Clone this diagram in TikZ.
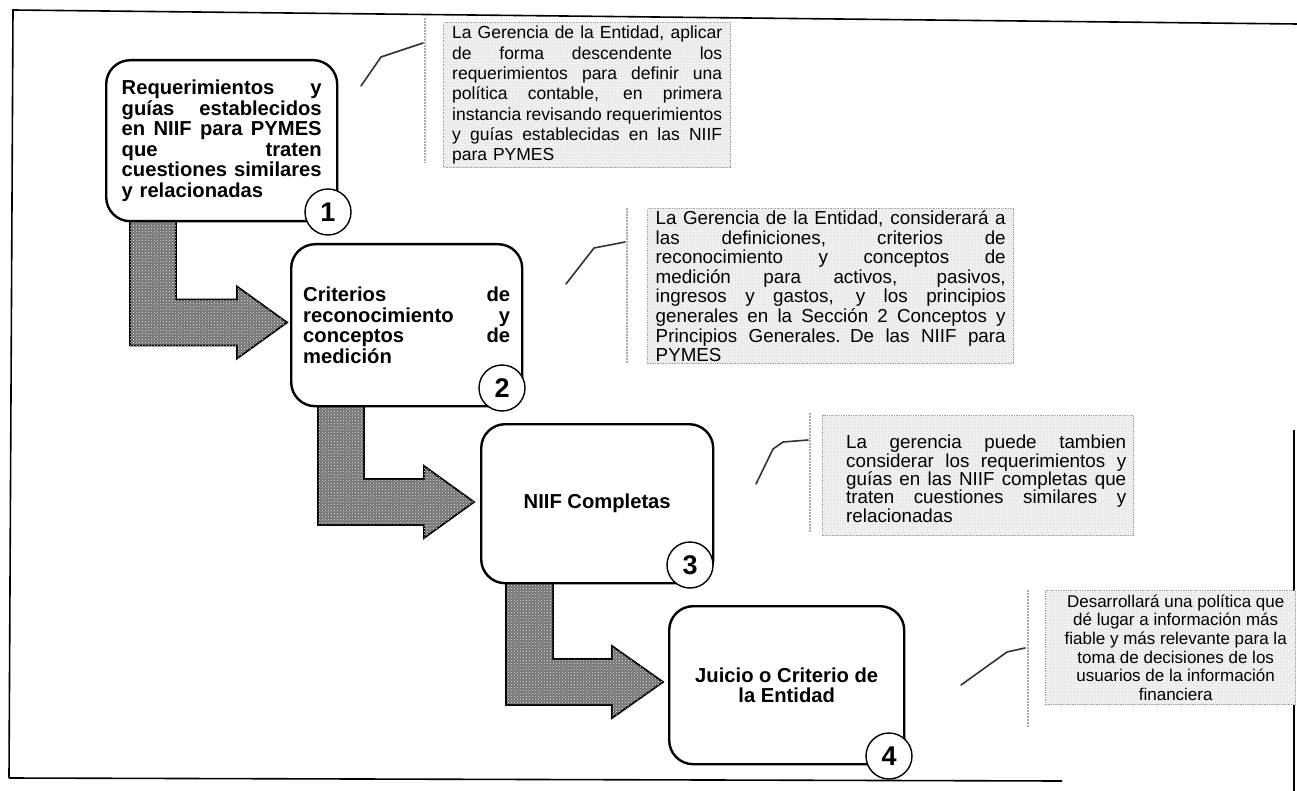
\documentclass[tikz,border=0pt]{standalone}
\usepackage{fontspec}
\setmainfont{Liberation Sans}
\usetikzlibrary{calc,patterns}
\newcommand\jw{200pt}
\newcommand\jline[1]{\makebox[\jw][s]{\spaceskip=0.25em plus 1fil\relax #1}\\}
\newcommand\boxfont{\bfseries\fontsize{20.2}{20.6}\selectfont}
\newcommand\numfont{\bfseries\fontsize{27}{27}\selectfont}
\newcommand\noteAfont{\fontsize{17.5}{20.3}\selectfont}
\newcommand\noteBfont{\fontsize{18.8}{19.6}\selectfont}
\newcommand\noteCfont{\fontsize{18.8}{18.3}\selectfont}
\newcommand\noteDfont{\fontsize{17}{18.6}\selectfont}
\tikzset{
 frameline/.style={line width=1.6pt, draw=black},
 stepbox/.style={draw=black, line width=2.4pt, rounded corners=24pt, fill=white, anchor=north west, inner sep=0pt, font=\boxfont},
 numc/.style={circle, draw=black, line width=1.4pt, fill=white, minimum size=46pt, inner sep=0pt, font=\numfont},
 bigarrow/.style={fill=black!55, draw=black, line width=1.8pt, line join=miter,
   postaction={pattern=crosshatch dots, pattern color=white!80!gray}},
 note/.style={draw=gray!75, line width=1.4pt, densely dotted, fill=gray!12, anchor=north west, inner sep=0pt,
   postaction={pattern=dots, pattern color=gray!45}},
 notebar/.style={draw=gray!65, line width=2pt, densely dotted},
 pointer/.style={draw=gray!40!black, line width=1.6pt, line join=round, line cap=round},
}
\begin{document}
\begin{tikzpicture}[x=1pt,y=-1pt]
\useasboundingbox (0,0) rectangle (1297,791);
\fill[white] (0,0) rectangle (1297,791);
% outer frame
\coordinate (ftl) at (13,10);
\coordinate (ftr) at (1297,24);
\coordinate (fbl) at (9,778);
\coordinate (fbr) at (1062,781);
\coordinate (frt) at (1294,430);
\coordinate (frb) at (1294,791);
\draw[frameline] (fbl) -- (ftl) -- (ftr);
\draw[frameline] (fbl) -- (fbr);
\draw[frameline] (frt) -- (frb);

% callout 1
\node[note, minimum width=287pt, minimum height=145pt] (c1) at (443,22) {};
\node[text width=270pt, align=left, inner sep=0pt, font=\noteAfont] (t1) at (c1.center) {\renewcommand\jw{270pt}%
\jline{La Gerencia de la Entidad, aplicar}
\jline{de forma descendente los}
\jline{requerimientos para definir una}
\jline{política contable, en primera}
\jline{instancia revisando requerimientos}
\jline{y guías establecidas en las NIIF}
para PYMES};
\coordinate (v1a) at (425,18);
\coordinate (v1b) at (425,163);
\coordinate (p1a) at (423,43);
\coordinate (p1b) at (381,57);
\coordinate (p1c) at (361,86);
\draw[notebar] (v1a) -- (v1b);
\draw[pointer] (p1a) -- (p1b) -- (p1c);

% callout 2
\node[note, minimum width=366pt, minimum height=155pt] (c2) at (647,208) {};
\node[text width=350pt, align=left, inner sep=0pt, font=\noteBfont] (t2) at (c2.center) {\renewcommand\jw{350pt}%
\jline{La Gerencia de la Entidad, considerará a}
\jline{las definiciones, criterios de}
\jline{reconocimiento y conceptos de}
\jline{medición para activos, pasivos,}
\jline{ingresos y gastos, y los principios}
\jline{generales en la Sección 2 Conceptos y}
\jline{Principios Generales. De las NIIF para}
PYMES};
\coordinate (v2a) at (627,208);
\coordinate (v2b) at (627,363);
\coordinate (p2a) at (625,242);
\coordinate (p2b) at (594,248);
\coordinate (p2c) at (566,284);
\draw[notebar] (v2a) -- (v2b);
\draw[pointer] (p2a) -- (p2b) -- (p2c);

% callout 3
\node[note, minimum width=311pt, minimum height=120pt] (c3) at (822,415) {};
\node[text width=280pt, align=left, inner sep=0pt, font=\noteCfont] (t3) at ($(c3.center)+(8,3)$) {\renewcommand\jw{280pt}%
\jline{La gerencia puede tambien}
\jline{considerar los requerimientos y}
\jline{guías en las NIIF completas que}
\jline{traten cuestiones similares y}
relacionadas};
\coordinate (v3a) at (810,413);
\coordinate (v3b) at (810,533);
\coordinate (p3a) at (808,440);
\coordinate (p3b) at (783,442);
\coordinate (p3c) at (773,449);
\coordinate (p3d) at (756,484);
\draw[notebar] (v3a) -- (v3b);
\draw[pointer] (p3a) -- (p3b) -- (p3c) -- (p3d);

% callout 4
\node[note, minimum width=250pt, minimum height=114pt] (c4) at (1045,590) {};
\node[align=center, inner sep=0pt, font=\noteDfont] (t4) at ($(c4.center)+(5,0)$) {%
Desarrollará una política que\\
dé lugar a información más\\
fiable y más relevante para la\\
toma de decisiones de los\\
usuarios de la información\\
financiera};
\coordinate (v4a) at (1028,590);
\coordinate (v4b) at (1028,727);
\coordinate (p4a) at (1025,648);
\coordinate (p4b) at (1007,652);
\coordinate (p4c) at (961,685);
\draw[notebar] (v4a) -- (v4b);
\draw[pointer] (p4a) -- (p4b) -- (p4c);

% step arrows
\draw[bigarrow] (130,215) -- (176,215) -- (176,299.5) -- (237,299.5) -- (237,286.5) -- (287,322.5) -- (237,358.5) -- (237,345.5) -- (130,345.5) -- cycle;
\draw[bigarrow] (318,400) -- (364,400) -- (364,479) -- (424,479) -- (424,466) -- (474,502) -- (424,538) -- (424,525) -- (318,525) -- cycle;
\draw[bigarrow] (506,577) -- (553,577) -- (553,659) -- (612,659) -- (612,646) -- (663,682) -- (612,718) -- (612,705) -- (506,705) -- cycle;

% step boxes
\node[stepbox, minimum width=231pt, minimum height=161pt, text width=200pt, align=left] (b1) at (105,59) {\renewcommand\jw{200pt}%
\jline{Requerimientos y}
\jline{guías establecidos}
\jline{en NIIF para PYMES}
\jline{que traten}
\jline{cuestiones similares}
y relacionadas};
\node[stepbox, minimum width=231pt, minimum height=162pt, text width=207pt, align=left] (b2) at (290,243) {\renewcommand\jw{207pt}%
\jline{Criterios de}
\jline{reconocimiento y}
\jline{conceptos de}
medición};
\node[stepbox, minimum width=232pt, minimum height=159pt, align=center] (b3) at (480,423) {NIIF Completas};
\node[stepbox, minimum width=235pt, minimum height=158pt, align=center] (b4) at (668,605) {Juicio o Criterio de\\la Entidad};

% numbers
\node[numc] (n1) at (328,212) {1};
\node[numc] (n2) at (502,388) {2};
\node[numc] (n3) at (690,565) {3};
\node[numc] (n4) at (889,756) {4};
\end{tikzpicture}
\end{document}
